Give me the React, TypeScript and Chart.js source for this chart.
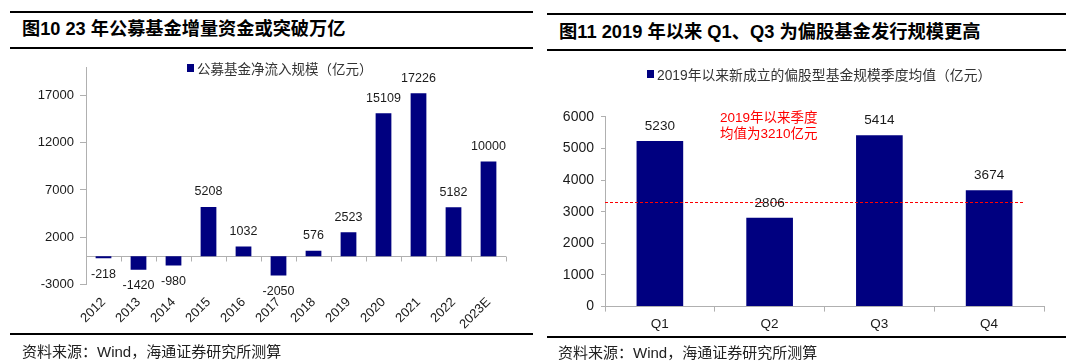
import React, { useEffect, useRef } from 'react';
import { Chart, registerables } from 'chart.js';

Chart.register(...registerables);

// ---------- data ----------
const years = ['2012', '2013', '2014', '2015', '2016', '2017', '2018', '2019', '2020', '2021', '2022', '2023E'];
const netInflow = [-218, -1420, -980, 5208, 1032, -2050, 576, 2523, 15109, 17226, 5182, 10000];
const leftTicks = [-3000, 2000, 7000, 12000, 17000];

const quarters = ['Q1', 'Q2', 'Q3', 'Q4'];
const quarterAvg = [5230, 2806, 5414, 3674];
const avgLineValue = 3310;

const leftTitle = '图10 23 年公募基金增量资金或突破万亿';
const rightTitle = '图11 2019 年以来 Q1、Q3 为偏股基金发行规模更高';
const leftLegend = '公募基金净流入规模（亿元）';
const rightLegend = '2019年以来新成立的偏股型基金规模季度均值（亿元）';
const noteLines = ['2019年以来季度', '均值为3210亿元'];
const sourceText = '资料来源：Wind，海通证券研究所测算';

// ---------- styles ----------
const NAVY = '#000080';
const GRAY = '#b0b0b0';
const TEXT = '#1a1a1a';
const NUM_FONT = '"Liberation Sans", Arial, sans-serif';
const CJK_FONT = '"Liberation Sans", "Noto Sans CJK SC", sans-serif';

const valueLabelPlugin = (size: number, above: number, below: number) => ({
  id: 'valueLabels',
  afterDatasetsDraw(chart: any) {
    const { ctx } = chart;
    const meta = chart.getDatasetMeta(0);
    const data = chart.data.datasets[0].data as number[];
    ctx.save();
    ctx.fillStyle = TEXT;
    ctx.font = `${size}px ${NUM_FONT}`;
    ctx.textAlign = 'center';
    ctx.textBaseline = 'middle';
    meta.data.forEach((el: any, i: number) => {
      const v = data[i];
      const y = v >= 0 ? el.y - above : el.y + below;
      ctx.fillText(String(v), el.x, y);
    });
    ctx.restore();
  },
});

const zeroAxisPlugin = {
  id: 'zeroAxis',
  beforeDatasetsDraw(chart: any) {
    const { ctx, chartArea } = chart;
    const yScale = chart.scales.y;
    const y0 = Math.round(yScale.getPixelForValue(0)) + 0.5;
    const n = chart.data.labels.length;
    ctx.save();
    ctx.strokeStyle = GRAY;
    ctx.lineWidth = 1;
    ctx.beginPath();
    ctx.moveTo(chartArea.left, y0);
    ctx.lineTo(chartArea.right, y0);
    for (let i = 0; i <= n; i++) {
      const xx = Math.round(chartArea.left + ((chartArea.right - chartArea.left) * i) / n) + 0.5;
      ctx.moveTo(xx, y0);
      ctx.lineTo(xx, y0 + 5);
    }
    ctx.stroke();
    ctx.restore();
  },
};

const avgLinePlugin = {
  id: 'avgLine',
  afterDatasetsDraw(chart: any) {
    const { ctx, chartArea } = chart;
    const y = Math.round(chart.scales.y.getPixelForValue(avgLineValue)) + 0.5;
    ctx.save();
    ctx.strokeStyle = '#ff0000';
    ctx.lineWidth = 1;
    ctx.setLineDash([3, 2]);
    ctx.beginPath();
    ctx.moveTo(chartArea.left, y);
    ctx.lineTo(chartArea.right - 21, y);
    ctx.stroke();
    ctx.restore();
  },
};

function LeftChart() {
  const ref = useRef<HTMLCanvasElement>(null);
  useEffect(() => {
    if (!ref.current) return;
    const chart = new Chart(ref.current, {
      type: 'bar',
      data: {
        labels: years,
        datasets: [
          {
            label: leftLegend,
            data: netInflow,
            backgroundColor: NAVY,
            categoryPercentage: 1,
            barPercentage: 0.45,
          },
        ],
      },
      options: {
        animation: false,
        responsive: false,
        maintainAspectRatio: false,
        layout: { padding: { top: 7, right: 34, left: 0, bottom: 0 } },
        plugins: { legend: { display: false }, tooltip: { enabled: false } },
        scales: {
          x: {
            grid: { display: false, drawTicks: false },
            border: { display: false },
            ticks: {
              minRotation: 45,
              maxRotation: 45,
              autoSkip: false,
              padding: 10,
              color: TEXT,
              font: { family: NUM_FONT, size: 13 },
            },
            afterFit: (s: any) => {
              s.height = 55.4;
              s.paddingLeft = 0;
              s.paddingRight = 0;
            },
          },
          y: {
            min: -3000,
            max: 20000,
            afterBuildTicks: (s: any) => {
              s.ticks = leftTicks.map((v) => ({ value: v }));
            },
            grid: { drawOnChartArea: false, drawTicks: true, tickLength: 6, color: GRAY },
            border: { color: GRAY },
            ticks: {
              padding: 6,
              color: TEXT,
              font: { family: NUM_FONT, size: 13 },
              callback: (v: any) => String(v),
            },
            afterFit: (s: any) => {
              s.width = 86;
              s.paddingTop = 0;
              s.paddingBottom = 0;
            },
          },
        },
      },
      plugins: [zeroAxisPlugin, valueLabelPlugin(12.5, 15, 16)],
    } as any);
    return () => chart.destroy();
  }, []);
  return (
    <canvas
      ref={ref}
      width={540}
      height={280}
      style={{ position: 'absolute', left: 0, top: 60, width: 540, height: 280 }}
    />
  );
}

function RightChart() {
  const ref = useRef<HTMLCanvasElement>(null);
  useEffect(() => {
    if (!ref.current) return;
    const chart = new Chart(ref.current, {
      type: 'bar',
      data: {
        labels: quarters,
        datasets: [
          {
            label: rightLegend,
            data: quarterAvg,
            backgroundColor: NAVY,
            categoryPercentage: 1,
            barPercentage: 0.425,
          },
        ],
      },
      options: {
        animation: false,
        responsive: false,
        maintainAspectRatio: false,
        layout: { padding: { top: 56.7, right: 36, left: 0, bottom: 0 } },
        plugins: { legend: { display: false }, tooltip: { enabled: false } },
        scales: {
          x: {
            grid: { display: true, drawOnChartArea: false, drawTicks: true, tickLength: 5, color: GRAY },
            border: { color: GRAY },
            ticks: {
              padding: 5,
              color: TEXT,
              font: { family: NUM_FONT, size: 13.5 },
            },
            afterFit: (s: any) => {
              s.height = 33.4;
              s.paddingLeft = 0;
              s.paddingRight = 0;
            },
          },
          y: {
            min: 0,
            max: 6000,
            ticks: {
              stepSize: 1000,
              padding: 7,
              color: TEXT,
              font: { family: NUM_FONT, size: 14 },
              callback: (v: any) => String(v),
            },
            grid: { drawOnChartArea: false, drawTicks: true, tickLength: 4, color: GRAY },
            border: { color: GRAY },
            afterFit: (s: any) => {
              s.width = 65;
              s.paddingTop = 0;
              s.paddingBottom = 0;
            },
          },
        },
      },
      plugins: [avgLinePlugin, valueLabelPlugin(13.5, 15, 15)],
    } as any);
    return () => chart.destroy();
  }, []);
  return (
    <canvas
      ref={ref}
      width={540}
      height={280}
      style={{ position: 'absolute', left: 540, top: 60, width: 540, height: 280 }}
    />
  );
}

const rule = (left: number, top: number, width: number) => (
  <div style={{ position: 'absolute', left, top, width, height: 2, background: '#000' }} />
);

const textAt = (
  left: number,
  centerY: number,
  text: string,
  size: number,
  extra: React.CSSProperties = {}
) => (
  <div
    style={{
      position: 'absolute',
      left,
      top: centerY - size * 0.6,
      height: size * 1.2,
      lineHeight: `${size * 1.2}px`,
      fontSize: size,
      fontFamily: CJK_FONT,
      whiteSpace: 'nowrap',
      color: TEXT,
      ...extra,
    }}
  >
    {text}
  </div>
);

const legendAt = (left: number, centerY: number, text: string, size: number) => (
  <div
    style={{
      position: 'absolute',
      left,
      top: centerY - size * 0.6,
      height: size * 1.2,
      display: 'flex',
      alignItems: 'center',
      whiteSpace: 'nowrap',
      fontFamily: CJK_FONT,
      fontSize: size,
      color: '#333',
    }}
  >
    <span style={{ display: 'inline-block', width: 7, height: 8, background: NAVY, marginRight: 3 }} />
    <span>{text}</span>
  </div>
);

export default function App() {
  return (
    <div
      style={{
        position: 'fixed',
        left: 0,
        top: 0,
        width: 1080,
        height: 364,
        background: '#fff',
        overflow: 'hidden',
      }}
    >
      {/* left panel */}
      {rule(10, 11, 523)}
      {textAt(22, 30, leftTitle, 18.2, { fontWeight: 'bold', color: '#000' })}
      {rule(10, 47, 523)}
      <LeftChart />
      {legendAt(187, 68, leftLegend, 13.5)}
      {rule(10, 333, 523)}
      {textAt(22, 352, sourceText, 15, { color: '#222' })}

      {/* right panel */}
      {rule(547, 13, 519)}
      {textAt(559, 32, rightTitle, 18.3, { fontWeight: 'bold', color: '#000' })}
      {rule(547, 49, 519)}
      <RightChart />
      {legendAt(647, 74, rightLegend, 13.8)}
      {textAt(720, 117.7, noteLines[0], 13.5, { color: '#ff0000' })}
      {textAt(720, 134, noteLines[1], 13.5, { color: '#ff0000' })}
      {rule(547, 336, 519)}
      {textAt(558, 353, sourceText, 15, { color: '#222' })}
    </div>
  );
}
